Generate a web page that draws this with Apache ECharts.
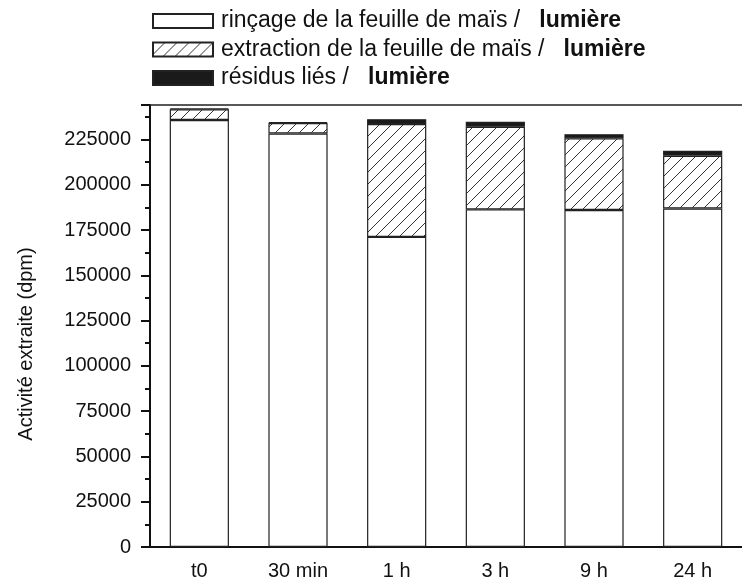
<!DOCTYPE html>
<html><head><meta charset="utf-8">
<script src="https://cdn.jsdelivr.net/npm/echarts@6/dist/echarts.min.js"></script>
<style>html,body{margin:0;padding:0;background:#fff}#c{width:742px;height:583px}</style>
</head><body><div id="c"></div>
<script>
const categories = ['t0', '30 min', '1 h', '3 h', '9 h', '24 h'];
const rincage = [235700, 228300, 171200, 186400, 186000, 186900];
const extraction = [5900, 5800, 62300, 45600, 39600, 29100];
const residus = [500, 500, 2700, 2700, 2300, 2700];
const seriesNames = ['rinçage de la feuille de maïs', 'extraction de la feuille de maïs', 'résidus liés'];
const yTicks = [0, 25000, 50000, 75000, 100000, 125000, 150000, 175000, 200000, 225000];

function hatch() {
  const s = 12;
  const cv = document.createElement('canvas');
  cv.width = s; cv.height = s;
  const g = cv.getContext('2d');
  g.fillStyle = '#fff'; g.fillRect(0, 0, s, s);
  g.strokeStyle = '#333'; g.lineWidth = 1;
  g.beginPath();
  g.moveTo(-1, s + 1); g.lineTo(s + 1, -1);
  g.moveTo(-1, 1); g.lineTo(1, -1);
  g.moveTo(s - 1, s + 1); g.lineTo(s + 1, s - 1);
  g.stroke();
  return cv;
}

const FONT = 'Liberation Sans, Arial, sans-serif';
const chart = echarts.init(document.getElementById('c'), null, {renderer: 'canvas'});
const border = {borderColor: '#222', borderWidth: 1.2};
chart.setOption({
  animation: false,
  textStyle: {fontFamily: FONT},
  grid: {left: 150, right: -8, top: 105, bottom: 36},
  legend: {
    orient: 'vertical', left: 152, top: 9.5, padding: 0, icon: 'rect',
    itemWidth: 60, itemHeight: 14, itemGap: 5.5,
    data: seriesNames,
    formatter: n => n + ' /   {b|lumière}',
    textStyle: {fontFamily: FONT, fontSize: 23, lineHeight: 23, color: '#111', padding: [0, 0, 0, 3],
      rich: {b: {fontFamily: FONT, fontSize: 23, lineHeight: 23, fontWeight: 'bold', color: '#111'}}}
  },
  xAxis: [
    {type: 'category', data: categories, position: 'bottom', boundaryGap: true,
     axisLine: {lineStyle: {color: '#111', width: 2}},
     axisTick: {alignWithLabel: true, length: 7, lineStyle: {color: '#111', width: 2}},
     axisLabel: {color: '#111', fontSize: 20, margin: 14, fontFamily: FONT}},
    {type: 'category', data: categories, position: 'bottom', boundaryGap: true,
     axisLine: {show: false}, axisLabel: {show: false},
     axisTick: {length: 5, lineStyle: {color: '#111', width: 2}}},
    {type: 'category', data: categories, position: 'top', boundaryGap: true,
     axisLine: {lineStyle: {color: '#222', width: 1.5}}, axisLabel: {show: false},
     axisTick: {alignWithLabel: true, inside: true, length: 3, lineStyle: {color: '#222'}}},
    {type: 'category', data: categories, position: 'top', boundaryGap: true,
     axisLine: {show: false}, axisLabel: {show: false},
     axisTick: {inside: true, length: 3, lineStyle: {color: '#222'}}}
  ],
  yAxis: {
    type: 'value', min: 0, max: 244000, interval: 25000,
    name: 'Activité extraite (dpm)', nameLocation: 'middle', nameGap: 114, nameRotate: 90,
    nameTextStyle: {fontSize: 20, color: '#111', fontFamily: FONT, padding: [0, 36, 0, 0]},
    axisLine: {show: true, lineStyle: {color: '#111', width: 2}},
    axisTick: {show: true, length: 9, lineStyle: {color: '#111', width: 2}},
    minorTick: {show: true, splitNumber: 2, length: 5, lineStyle: {color: '#111', width: 2}},
    splitLine: {show: false},
    axisLabel: {color: '#111', fontSize: 20, margin: 19, fontFamily: FONT, showMaxLabel: false,
      formatter: v => yTicks.indexOf(v) >= 0 ? String(v) : ''}
  },
  series: [
    {name: seriesNames[0], type: 'bar', stack: 's', barWidth: '60%', data: rincage,
     itemStyle: Object.assign({color: '#fff'}, border)},
    {name: seriesNames[1], type: 'bar', stack: 's', barWidth: '60%', data: extraction,
     itemStyle: Object.assign({color: {image: hatch(), repeat: 'repeat'}}, border)},
    {name: seriesNames[2], type: 'bar', stack: 's', barWidth: '60%', data: residus,
     itemStyle: Object.assign({color: '#1a1a1a'}, border)}
  ]
});
</script></body></html>
